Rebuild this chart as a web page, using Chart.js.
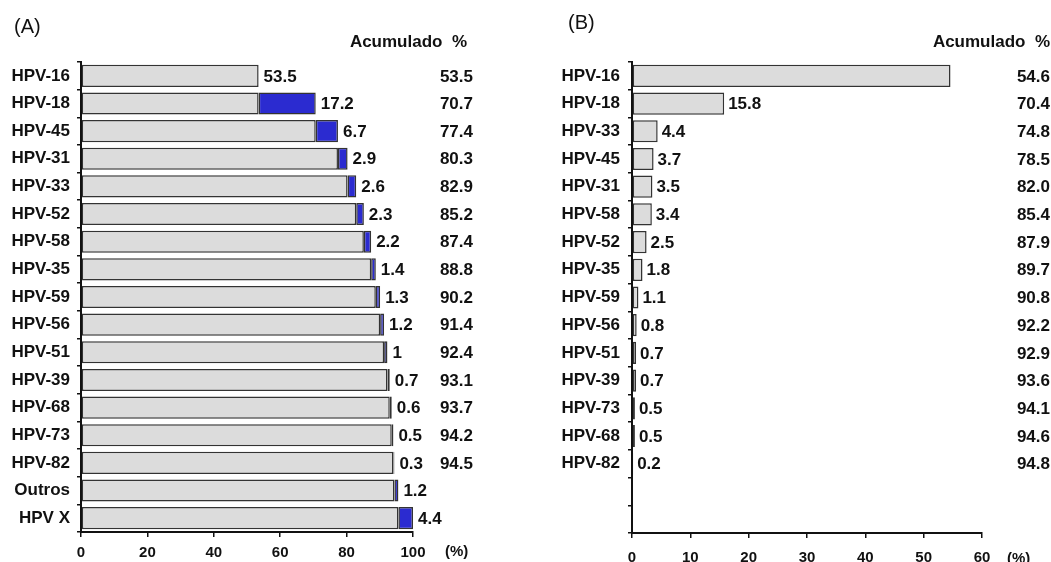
<!DOCTYPE html>
<html>
<head>
<meta charset="utf-8">
<title>HPV</title>
<script src="https://cdn.jsdelivr.net/npm/chart.js@4.4.0/dist/chart.umd.min.js"></script>
<style>
    body { margin: 0; background: #fff; }
    .panel { position: absolute; top: 0; height: 562px; }
    #panelA { left: 0; width: 525px; }
    #panelB { left: 525px; width: 526px; }
</style>
</head>
<body>
<div class="panel" id="panelA"><canvas id="chartA" width="525" height="562"></canvas></div>
<div class="panel" id="panelB"><canvas id="chartB" width="526" height="562"></canvas></div>
<script>
// (A) types with share and accumulated share
const typesA = ["HPV-16", "HPV-18", "HPV-45", "HPV-31", "HPV-33", "HPV-52", "HPV-58", "HPV-35",
    "HPV-59", "HPV-56", "HPV-51", "HPV-39", "HPV-68", "HPV-73", "HPV-82", "Outros", "HPV X"];
const shareA = [53.5, 17.2, 6.7, 2.9, 2.6, 2.3, 2.2, 1.4, 1.3, 1.2, 1, 0.7, 0.6, 0.5, 0.3, 1.2, 4.4];
const cumA = [53.5, 70.7, 77.4, 80.3, 82.9, 85.2, 87.4, 88.8, 90.2, 91.4, 92.4, 93.1, 93.7, 94.2, 94.5];
const ticksA = [0, 20, 40, 60, 80, 100];

// (B)
const typesB = ["HPV-16", "HPV-18", "HPV-33", "HPV-45", "HPV-31", "HPV-58", "HPV-52", "HPV-35",
    "HPV-59", "HPV-56", "HPV-51", "HPV-39", "HPV-73", "HPV-68", "HPV-82"];
const shareB = [54.6, 15.8, 4.4, 3.7, 3.5, 3.4, 2.5, 1.8, 1.1, 0.8, 0.7, 0.7, 0.5, 0.5, 0.2];
const cumB = [54.6, 70.4, 74.8, 78.5, 82.0, 85.4, 87.9, 89.7, 90.8, 92.2, 92.9, 93.6, 94.1, 94.6, 94.8];
const ticksB = [0, 10, 20, 30, 40, 50, 60];

const FONT = '"Liberation Sans", Arial, Helvetica, sans-serif';
const INK = "#111";
const GRAY = "#dcdcdc";
const BLUE = "#2b2bd0";
const EDGE = "#333";

// gray part = what is already accumulated, blue part = the new type
const grayA = [];
const blueA = [];
let running = 0;
shareA.forEach((v, i) => {
    if (i === 0) {
        grayA.push(v);
        blueA.push(null);
    } else {
        grayA.push(running);
        blueA.push(v);
    }
    running += v;
});
const endsA = grayA.map((g, i) => g + (blueA[i] || 0));

const sideText = {
    id: "sideText",
    afterDraw(chart, args, opts) {
        const { ctx, scales: { x, y } } = chart;
        ctx.save();
        ctx.fillStyle = INK;
        ctx.textBaseline = "middle";

        ctx.font = `bold 17px ${FONT}`;
        ctx.textAlign = "left";
        opts.values.forEach((v, i) => {
            if (v == null) return;
            ctx.fillText(String(v), x.getPixelForValue(opts.ends[i]) + opts.gap, y.getPixelForValue(i) + 1);
        });

        ctx.textAlign = "right";
        opts.cumulative.forEach((v, i) => {
            ctx.fillText(v.toFixed(1), opts.cumRight, y.getPixelForValue(i) + 1);
        });
        ctx.fillText("Acumulado  %", opts.headerRight, 42);

        ctx.font = `20px ${FONT}`;
        ctx.textAlign = "left";
        ctx.fillText(opts.letter, opts.letterX, opts.letterY);

        ctx.font = `bold 15px ${FONT}`;
        ctx.fillText("(%)", x.right + opts.unitGap, opts.unitY);
        ctx.restore();
    }
};

function yScale(width, pad) {
    return {
        afterFit: scale => { scale.width = width; },
        grid: { drawOnChartArea: false, offset: true, tickLength: 4, color: INK, lineWidth: 1.5 },
        border: { display: true, color: INK, width: 2 },
        ticks: { autoSkip: false, color: INK, padding: pad, font: { family: FONT, size: 17, weight: "bold" } }
    };
}

function xScale(max, tickValues, height, pad) {
    return {
        min: 0,
        max: max,
        afterFit: scale => { scale.height = height; },
        afterBuildTicks: scale => { scale.ticks = tickValues.map(v => ({ value: v })); },
        grid: { drawOnChartArea: false, tickLength: 5, color: INK, lineWidth: 1.5 },
        border: { display: true, color: INK, width: 2 },
        ticks: { color: INK, padding: pad, maxRotation: 0, font: { family: FONT, size: 15, weight: "bold" } }
    };
}

const barStyle = {
    borderColor: EDGE,
    borderWidth: 1.5,
    borderSkipped: false,
    barPercentage: 0.8,
    categoryPercentage: 1
};

new Chart(document.getElementById("chartA"), {
    type: "bar",
    data: {
        labels: typesA,
        datasets: [
            { data: grayA, backgroundColor: GRAY, ...barStyle },
            { data: blueA, backgroundColor: BLUE, ...barStyle }
        ]
    },
    options: {
        indexAxis: "y",
        responsive: false,
        animation: false,
        devicePixelRatio: 1,
        layout: { padding: { left: 0, right: 112, top: 62, bottom: 0 } },
        plugins: {
            legend: { display: false },
            tooltip: { enabled: false },
            sideText: {
                values: shareA, ends: endsA, gap: 5,
                cumulative: cumA, cumRight: 473, headerRight: 467,
                letter: "(A)", letterX: 14, letterY: 27,
                unitGap: 32, unitY: 552
            }
        },
        scales: {
            x: { stacked: true, ...xScale(100, ticksA, 30, 7) },
            y: { stacked: true, ...yScale(81, 7) }
        }
    },
    plugins: [sideText]
});

new Chart(document.getElementById("chartB"), {
    type: "bar",
    data: {
        labels: [...typesB, "", ""],
        datasets: [
            { data: shareB, backgroundColor: GRAY, ...barStyle }
        ]
    },
    options: {
        indexAxis: "y",
        responsive: false,
        animation: false,
        devicePixelRatio: 1,
        layout: { padding: { left: 0, right: 69, top: 62, bottom: 0 } },
        plugins: {
            legend: { display: false },
            tooltip: { enabled: false },
            sideText: {
                values: shareB.map((v, i) => (i === 0 ? null : v)), ends: shareB, gap: 4,
                cumulative: cumB, cumRight: 525, headerRight: 525,
                letter: "(B)", letterX: 43, letterY: 23,
                unitGap: 25, unitY: 559
            }
        },
        scales: {
            x: xScale(60, ticksB, 29, 11),
            y: yScale(107, 8)
        }
    },
    plugins: [sideText]
});
</script>
</body>
</html>
